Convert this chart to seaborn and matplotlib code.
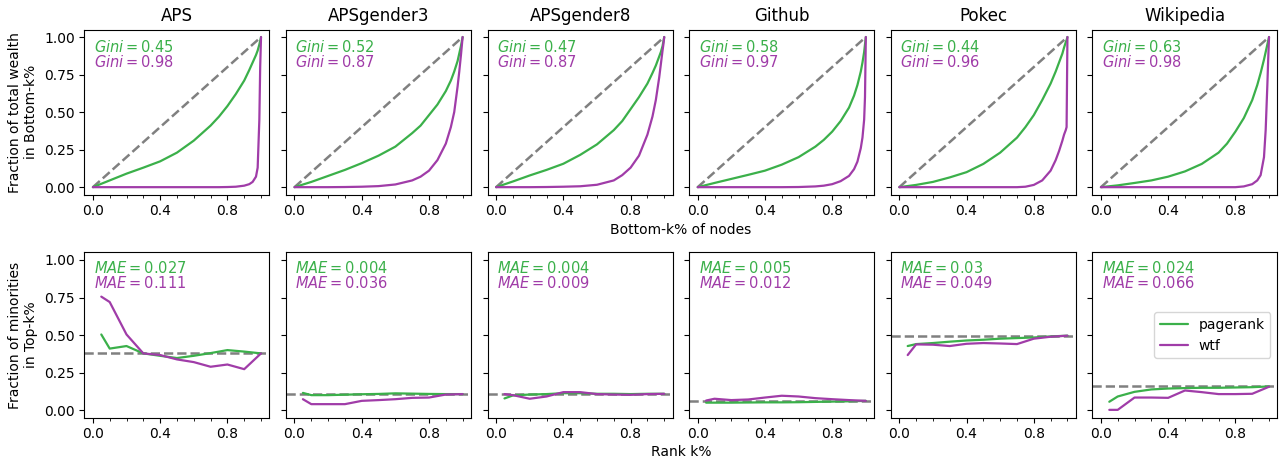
import numpy as np
import pandas as pd
import matplotlib
matplotlib.use("Agg")
import matplotlib.pyplot as plt
from matplotlib.ticker import AutoMinorLocator, FixedLocator
import seaborn as sns

# ---------------- data ----------------
datasets = ["APS", "APSgender3", "APSgender8", "Github", "Pokec", "Wikipedia"]
methods = ["pagerank", "wtf"]

gini_pagerank = [0.45, 0.52, 0.47, 0.58, 0.44, 0.63]
gini_wtf = [0.98, 0.87, 0.87, 0.97, 0.96, 0.98]
mae_pagerank = ["0.027", "0.004", "0.004", "0.005", "0.03", "0.024"]
mae_wtf = ["0.111", "0.036", "0.009", "0.012", "0.049", "0.066"]

# Lorenz curves (bottom-k% of nodes -> fraction of total wealth)
lorenz_x = [0.0, 0.1, 0.2, 0.3, 0.4, 0.5, 0.6, 0.7, 0.75, 0.8, 0.85, 0.9,
            0.93, 0.95, 0.97, 0.98, 0.99, 0.995, 1.0]
lorenz_pagerank = {
    "APS":        [0, 0.045, 0.09, 0.13, 0.172, 0.23, 0.31, 0.41, 0.47, 0.54, 0.62, 0.71, 0.78, 0.83, 0.88, 0.91, 0.95, 0.975, 1.0],
    "APSgender3": [0, 0.035, 0.075, 0.115, 0.16, 0.21, 0.27, 0.36, 0.41, 0.48, 0.55, 0.64, 0.71, 0.77, 0.84, 0.89, 0.94, 0.97, 1.0],
    "APSgender8": [0, 0.038, 0.078, 0.115, 0.156, 0.215, 0.285, 0.38, 0.44, 0.52, 0.6, 0.69, 0.76, 0.81, 0.87, 0.9, 0.94, 0.97, 1.0],
    "Github":     [0, 0.028, 0.055, 0.082, 0.11, 0.15, 0.2, 0.27, 0.315, 0.37, 0.44, 0.53, 0.61, 0.68, 0.77, 0.83, 0.9, 0.95, 1.0],
    "Pokec":      [0, 0.015, 0.035, 0.065, 0.1, 0.155, 0.23, 0.33, 0.4, 0.48, 0.58, 0.69, 0.77, 0.83, 0.89, 0.93, 0.965, 0.98, 1.0],
    "Wikipedia":  [0, 0.012, 0.028, 0.045, 0.07, 0.105, 0.155, 0.23, 0.29, 0.37, 0.46, 0.58, 0.68, 0.76, 0.85, 0.9, 0.95, 0.975, 1.0],
}
lorenz_wtf = {
    "APS":        [0, 0, 0, 0, 0, 0, 0, 0, 0, 0.001, 0.003, 0.01, 0.02, 0.035, 0.07, 0.13, 0.45, 0.8, 1.0],
    "APSgender3": [0, 0, 0, 0.001, 0.003, 0.007, 0.018, 0.045, 0.07, 0.11, 0.18, 0.29, 0.4, 0.5, 0.67, 0.77, 0.88, 0.94, 1.0],
    "APSgender8": [0, 0, 0, 0.001, 0.003, 0.006, 0.016, 0.045, 0.08, 0.13, 0.21, 0.35, 0.47, 0.58, 0.73, 0.82, 0.91, 0.95, 1.0],
    "Github":     [0, 0, 0, 0, 0, 0, 0.001, 0.005, 0.01, 0.02, 0.04, 0.075, 0.12, 0.17, 0.26, 0.33, 0.45, 0.6, 1.0],
    "Pokec":      [0, 0, 0, 0, 0, 0, 0, 0, 0.003, 0.015, 0.045, 0.11, 0.18, 0.24, 0.31, 0.35, 0.38, 0.40, 1.0],
    "Wikipedia":  [0, 0, 0, 0, 0, 0, 0, 0, 0, 0, 0.005, 0.02, 0.045, 0.08, 0.2, 0.38, 0.68, 0.85, 1.0],
}

# Fraction of minorities in top-k%
rank_x = [0.05, 0.1, 0.2, 0.3, 0.4, 0.5, 0.6, 0.7, 0.8, 0.9, 1.0]
minority_pagerank = {
    "APS":        [0.504, 0.41, 0.427, 0.378, 0.362, 0.347, 0.362, 0.38, 0.40, 0.39, 0.378],
    "APSgender3": [0.115, 0.10, 0.10, 0.103, 0.106, 0.108, 0.112, 0.11, 0.108, 0.107, 0.107],
    "APSgender8": [0.078, 0.098, 0.104, 0.107, 0.113, 0.113, 0.109, 0.109, 0.107, 0.109, 0.109],
    "Github":     [0.05, 0.05, 0.05, 0.051, 0.052, 0.052, 0.053, 0.055, 0.057, 0.059, 0.062],
    "Pokec":      [0.427, 0.44, 0.447, 0.456, 0.464, 0.469, 0.476, 0.48, 0.484, 0.491, 0.496],
    "Wikipedia":  [0.056, 0.091, 0.122, 0.138, 0.144, 0.147, 0.149, 0.149, 0.151, 0.153, 0.158],
}
minority_wtf = {
    "APS":        [0.756, 0.72, 0.504, 0.378, 0.367, 0.338, 0.32, 0.289, 0.304, 0.273, 0.378],
    "APSgender3": [0.073, 0.04, 0.04, 0.04, 0.062, 0.067, 0.073, 0.082, 0.084, 0.104, 0.107],
    "APSgender8": [0.107, 0.10, 0.076, 0.091, 0.12, 0.12, 0.107, 0.104, 0.102, 0.107, 0.109],
    "Github":     [0.064, 0.076, 0.067, 0.071, 0.084, 0.096, 0.091, 0.08, 0.073, 0.067, 0.062],
    "Pokec":      [0.367, 0.438, 0.436, 0.427, 0.442, 0.447, 0.444, 0.44, 0.476, 0.489, 0.496],
    "Wikipedia":  [0.002, 0.002, 0.084, 0.084, 0.082, 0.131, 0.12, 0.107, 0.107, 0.109, 0.156],
}
minority_share = [0.378, 0.107, 0.109, 0.062, 0.496, 0.158]

y_ticks = [0.0, 0.25, 0.5, 0.75, 1.0]
x_ticks = [0.0, 0.4, 0.8]

# ---------------- style ----------------
GREEN = "#3bb04a"
PURPLE = "#a03ca8"
palette = {"pagerank": GREEN, "wtf": PURPLE}

sns.set_style("ticks", rc={
    "axes.edgecolor": "black", "xtick.color": "black", "ytick.color": "black",
    "text.color": "black", "axes.labelcolor": "black",
})
plt.rcParams["font.family"] = ["DejaVu Sans"]
plt.rcParams["mathtext.fontset"] = "dejavusans"

fig, axes = plt.subplots(2, 6, figsize=(12.8, 4.61), dpi=100, sharey="row")
fig.subplots_adjust(left=0.066, right=0.998, top=0.936, bottom=0.094,
                    wspace=0.09, hspace=0.35)

for i, name in enumerate(datasets):
    # ---- top row: Lorenz curves ----
    ax = axes[0, i]
    df_top = pd.DataFrame({
        "x": lorenz_x * 2,
        "y": lorenz_pagerank[name] + lorenz_wtf[name],
        "method": ["pagerank"] * len(lorenz_x) + ["wtf"] * len(lorenz_x),
    })
    sns.lineplot(data=pd.DataFrame({"x": [0.0, 1.0], "y": [0.0, 1.0]}),
                 x="x", y="y", ax=ax, color="grey", linestyle="--",
                 linewidth=1.8, zorder=1)
    sns.lineplot(data=df_top, x="x", y="y", hue="method", palette=palette,
                 ax=ax, linewidth=1.6, legend=False, estimator=None, zorder=2)
    ax.set_title(name, fontsize=12)
    ax.text(0.05, 0.895, rf"$Gini = {gini_pagerank[i]:.2f}$", transform=ax.transAxes,
            color=GREEN, fontsize=10.5, va="center", ha="left")
    ax.text(0.05, 0.805, rf"$Gini = {gini_wtf[i]:.2f}$", transform=ax.transAxes,
            color=PURPLE, fontsize=10.5, va="center", ha="left")

    # ---- bottom row: minorities in top-k ----
    ax2 = axes[1, i]
    df_bot = pd.DataFrame({
        "x": rank_x * 2,
        "y": minority_pagerank[name] + minority_wtf[name],
        "method": ["pagerank"] * len(rank_x) + ["wtf"] * len(rank_x),
    })
    ax2.axhline(minority_share[i], color="grey", linestyle="--", linewidth=1.8, zorder=1)
    sns.lineplot(data=df_bot, x="x", y="y", hue="method", palette=palette,
                 ax=ax2, linewidth=1.6, legend=(i == 5), estimator=None, zorder=2)
    ax2.text(0.05, 0.906, rf"$MAE = {mae_pagerank[i]}$", transform=ax2.transAxes,
             color=GREEN, fontsize=10.5, va="center", ha="left")
    ax2.text(0.05, 0.815, rf"$MAE = {mae_wtf[i]}$", transform=ax2.transAxes,
             color=PURPLE, fontsize=10.5, va="center", ha="left")

    for a in (ax, ax2):
        a.set_xlim(-0.05, 1.05)
        a.set_ylim(-0.05, 1.05)
        a.xaxis.set_major_locator(FixedLocator(x_ticks))
        a.xaxis.set_minor_locator(AutoMinorLocator(4))
        a.yaxis.set_major_locator(FixedLocator(y_ticks))
        a.set_yticklabels([f"{t:.2f}" for t in y_ticks]) if i == 0 else None
        a.tick_params(axis="both", which="major", labelsize=10, length=3.5, width=0.8)
        a.tick_params(axis="x", which="minor", length=2, width=0.6)
        a.set_xlabel("")
        a.set_ylabel("")
        for s in a.spines.values():
            s.set_visible(True)
            s.set_linewidth(0.8)
    if i == 0:
        ax.set_xticklabels([f"{t:.1f}" for t in x_ticks])
    ax.set_xticklabels([f"{t:.1f}" for t in x_ticks])
    ax2.set_xticklabels([f"{t:.1f}" for t in x_ticks])

axes[0, 0].set_ylabel("Fraction of total wealth\nin Bottom-k%", fontsize=10)
axes[1, 0].set_ylabel("Fraction of minorities\nin Top-k%", fontsize=10)

leg = axes[1, 5].legend(loc="center right", fontsize=10, frameon=True)
leg.get_frame().set_edgecolor("#cccccc")

x_mid = (fig.subplotpars.left + fig.subplotpars.right) / 2
fig.text(x_mid, 1 - 230 / 461, "Bottom-k% of nodes", ha="center", va="center", fontsize=10)
fig.text(x_mid, 1 - 452 / 461, "Rank k%", ha="center", va="center", fontsize=10)

fig.savefig("out.png", dpi=100)
